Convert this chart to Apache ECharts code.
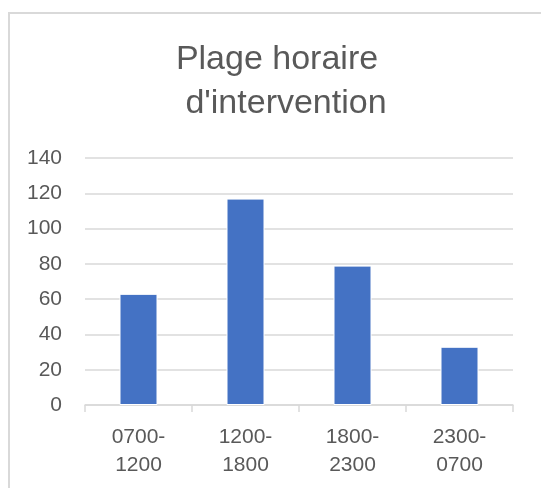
<!DOCTYPE html>
<html>
<head>
<meta charset="utf-8">
<script src="https://cdn.jsdelivr.net/npm/echarts@6/dist/echarts.min.js"></script>
<style>
  html, body { margin: 0; padding: 0; background: #fff; }
  #main { width: 541px; height: 488px; }
</style>
</head>
<body>
<div id="main"></div>
<script>
// plages horaires
var categories = ['0700-\n1200', '1200-\n1800', '1800-\n2300', '2300-\n0700'];
// nombre d'interventions
var values = [63, 117, 79, 33];
var yMin = 0, yMax = 140, yStep = 20;
var titleLines = ['Plage horaire', "d'intervention"];

var titleStyle = {
  fontFamily: 'Liberation Sans',
  fontSize: 34,
  fontWeight: 'normal',
  color: '#595959'
};

var myChart = echarts.init(document.getElementById('main'));
myChart.setOption({
  animation: false,
  textStyle: { fontFamily: 'Liberation Sans' },
  // titre sur deux lignes (centrage un peu décalé comme l'original)
  title: [{
    text: titleLines[0],
    left: 272,
    top: 38,
    textAlign: 'center',
    textStyle: titleStyle
  }, {
    text: titleLines[1],
    left: 281,
    top: 82,
    textAlign: 'center',
    textStyle: titleStyle
  }],
  // cadre du graphique
  graphic: [{
    type: 'rect',
    shape: { x: 9, y: 13, width: 600, height: 600 },
    style: { fill: 'none', stroke: '#d9d9d9', lineWidth: 2 }
  }],
  grid: { left: 85, right: 28, top: 158, bottom: 83 },
  xAxis: {
    type: 'category',
    data: categories,
    axisLine: { lineStyle: { color: '#d9d9d9', width: 1.5 } },
    axisTick: { show: true, length: 7, lineStyle: { color: '#d9d9d9', width: 1.5 } },
    axisLabel: { color: '#595959', fontSize: 21, lineHeight: 28, margin: 18 }
  },
  yAxis: {
    type: 'value',
    min: yMin,
    max: yMax,
    interval: yStep,
    axisLine: { show: false },
    axisTick: { show: false },
    axisLabel: { color: '#595959', fontSize: 21, margin: 23 },
    splitLine: { lineStyle: { color: '#d9d9d9', width: 1.5 } }
  },
  series: [{
    type: 'bar',
    data: values,
    barWidth: 38,
    itemStyle: { color: '#4472c4', borderColor: '#ffffff', borderWidth: 1 }
  }]
});
</script>
</body>
</html>
